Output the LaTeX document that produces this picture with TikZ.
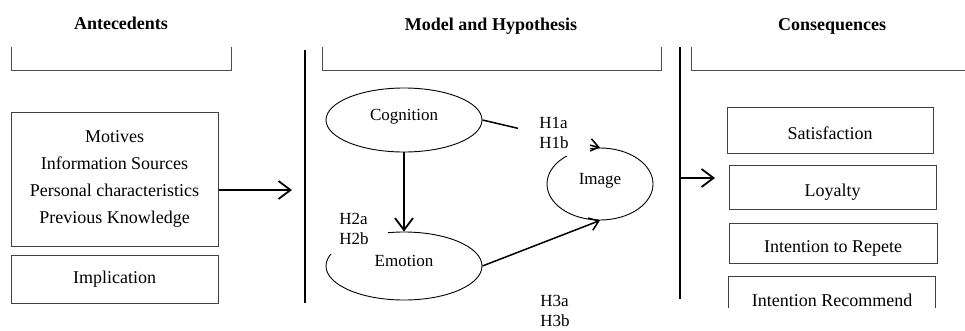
\documentclass[tikz,border=0pt]{standalone}
\usepackage{fontspec}
\setmainfont{Liberation Serif}
\usetikzlibrary{shapes.geometric,arrows.meta}
\begin{document}
\begin{tikzpicture}[x=1pt,y=-1pt,
  box/.style={draw=black!75, line width=1pt, inner sep=0pt, font=\fontsize{18}{27}\selectfont, align=center},
  rbox/.style={box, text height=18pt, text depth=0pt},
  ell/.style={ellipse, draw, line width=0.9pt, inner sep=0pt, font=\fontsize{17}{20}\selectfont, text height=6pt, text depth=6pt},
  lab/.style={fill=white, inner sep=0pt, font=\fontsize{17}{20}\selectfont, align=left},
  title/.style={font=\fontsize{18}{20}\selectfont\bfseries, anchor=base},
  bracket/.style={draw=black!70, line width=1pt},
  sep/.style={line width=2pt},
  bigarrow/.style={line width=1.8pt, -{Straight Barb[length=12pt,width=18pt,line width=1.8pt]}},
  arr/.style={line width=1.5pt, -{Straight Barb[length=9pt,width=13pt]}}
]
\useasboundingbox (0,0) rectangle (965,330);

% titles
\node[title] (t1) at (121,29) {Antecedents};
\node[title] (t2) at (491,30) {Model and Hypothesis};
\node[title] (t3) at (832,30) {Consequences};

% open-top brackets
\draw[bracket] (11,47) -- (11,70) -- (231,70) -- (231,47);
\draw[bracket] (322,47) -- (322,70) -- (661,70) -- (661,47);
\draw[bracket] (691,47) -- (691,70) -- (965,70);

% separators
\coordinate (s1t) at (305,50); \coordinate (s1b) at (305,303);
\coordinate (s2t) at (680,47); \coordinate (s2b) at (680,299);
\draw[sep] (s1t) -- (s1b);
\draw[sep] (s2t) -- (s2b);

% antecedents
\node[box, minimum width=207pt, minimum height=134pt] (ante) at (114.5,179)
  {Motives\\Information Sources\\Personal characteristics\\Previous Knowledge};
\node[box, minimum width=207pt, minimum height=48pt] (impl) at (114.5,279) {Implication};
\coordinate (la) at (292,190);
\draw[bigarrow] (ante.east |- la) -- (la);

% model
\node[ell, minimum width=156pt, minimum height=64pt] (cog) at (404,120) {Cognition};
\node[ell, minimum width=156pt, minimum height=68pt] (emo) at (404,266) {Emotion};
\node[ell, minimum width=106pt, minimum height=72pt] (img) at (600,184) {Image};

\draw[arr] (cog.east) -- (img.north);
\draw[bigarrow] (cog.south) -- (emo.north);
\draw[arr] (emo.east) -- (img.south);

\node[lab, minimum width=72pt, minimum height=45pt] (h1) at (554,133) {H1a\\H1b};
\node[lab, minimum width=68pt, minimum height=50pt] (h2) at (354,229) {H2a\\H2b};
\node[lab] (h3) at (555,311) {H3a\\H3b};

% consequences
\coordinate (ra) at (680,178); \coordinate (rb) at (715,178);
\draw[bigarrow] (ra) -- (rb);

\node[rbox, minimum width=206pt, minimum height=46pt] (sat) at (830,130) {Satisfaction};
\node[rbox, minimum width=207pt, minimum height=44pt] (loy) at (832.5,187) {Loyalty};
\node[rbox, minimum width=208pt, minimum height=40pt] (rep) at (833,243) {Intention to Repete};
\node[box, draw=none, minimum width=206pt, minimum height=30pt] (rec) at (832,292) {};
\draw[draw=black!75, line width=1pt] (rec.south west) -- (rec.north west) -- (rec.north east) -- (rec.south east);
\node[font=\fontsize{18}{20}\selectfont, inner sep=0pt] (rect) at (832,300) {Intention Recommend};
\end{tikzpicture}
\end{document}
